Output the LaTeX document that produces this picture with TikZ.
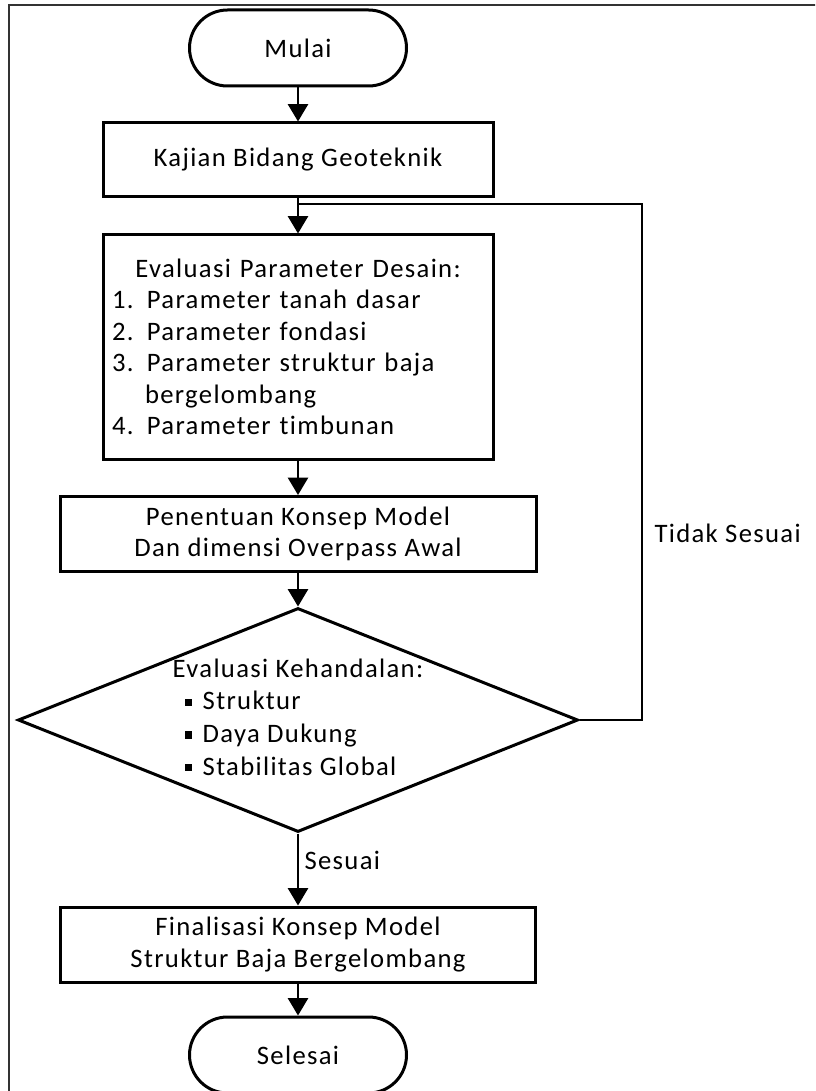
\documentclass[tikz,border=0pt]{standalone}
\usepackage{fontspec}
\setmainfont{Carlito}[LetterSpace=5, Ligatures={NoCommon,NoContextual}]
\usetikzlibrary{shapes.geometric,shapes.misc,arrows.meta}

\tikzset{every picture/.style={line width=0.75pt}}
\tikzset{
  every node/.style={font=\fontsize{20pt}{23.6pt}\selectfont},
  startstop/.style={draw, rounded rectangle, line width=2.25pt, minimum width=162.75pt, minimum height=57pt, inner sep=0pt},
  process/.style={draw, rectangle, line width=2.25pt, inner sep=0pt, align=center},
  decision/.style={draw, diamond, line width=2.25pt, minimum width=420pt, minimum height=168pt, inner sep=0pt},
  flow/.style={line width=1.8pt, -{Triangle[width=15pt,length=13pt]}},
  loopline/.style={line width=1.8pt},
}
\newcommand{\sqbullet}{\raisebox{3pt}{\rule{5.5pt}{5.5pt}}}

\begin{document}
\begin{tikzpicture}[x=0.75pt,y=0.75pt,yscale=-1,xscale=1]
        \path[use as bounding box, clip] (0,0) rectangle (815,1091);

        %Shape: Frame
        \draw [line width=1pt, draw=black!80] (9,5) rectangle (840,1120);

        %Shape: Terminal
        \node (mulai) [startstop] at (298,48) {Mulai};
        %Shape: Rectangle
        \node (kajian) [process, minimum width=292.5pt, minimum height=55.5pt] at (298,160) {Kajian Bidang Geoteknik};
        %Shape: Rectangle
        \node (evalpar) [process, minimum width=292.5pt, minimum height=168pt, text width=279pt, align=left] at (298,347)
          {\hfill Evaluasi Parameter Desain:\hfill\mbox{}\\
           1. Parameter tanah dasar\\
           2. Parameter fondasi\\
           3. Parameter struktur baja\\
           \hspace*{24.75pt}bergelombang\\
           4. Parameter timbunan};
        %Shape: Rectangle
        \node (penentuan) [process, minimum width=357pt, minimum height=56.25pt] at (298,534) {Penentuan Konsep Model\\Dan dimensi Overpass Awal};
        %Shape: Diamond
        \node (decide) [decision] at (298,720)
          {\makebox[0pt]{\smash{\raisebox{-5pt}{\fontsize{20pt}{24.5pt}\selectfont
           \begin{tabular}{@{}l@{}}
           Evaluasi Kehandalan:\\
           \hspace*{9pt}\sqbullet\hspace*{8pt}Struktur\\
           \hspace*{9pt}\sqbullet\hspace*{8pt}Daya Dukung\\
           \hspace*{9pt}\sqbullet\hspace*{8pt}Stabilitas Global
           \end{tabular}}}}};
        %Shape: Rectangle
        \node (final) [process, minimum width=356.25pt, minimum height=56.25pt] at (298,944.5) {Finalisasi Konsep Model\\Struktur Baja Bergelombang};
        %Shape: Terminal
        \node (selesai) [startstop] at (298,1055) {Selesai};

        \coordinate (joint) at (298,204);
        \coordinate (loopcorner) at (642,204);

        %Straight Lines
        \draw [flow] (mulai.south) -- (kajian.north);
        \draw [flow] (kajian.south) -- (evalpar.north);
        \draw [flow] (evalpar.south) -- (penentuan.north);
        \draw [flow] (penentuan.south) -- (decide.north);
        \draw [flow] (decide.south) -- (final.north);
        \draw [flow] (final.south) -- (selesai.north);
        %Straight Lines
        \draw [loopline] (decide.east) -| (loopcorner) -- (joint);

        % Text Node
        \draw (303,860) node (lblsesuai) [anchor=west, inner sep=0.75pt] {Sesuai};
        % Text Node
        \draw (653,533) node (lbltidak) [anchor=west, inner sep=0.75pt] {Tidak Sesuai};

\end{tikzpicture}
\end{document}
